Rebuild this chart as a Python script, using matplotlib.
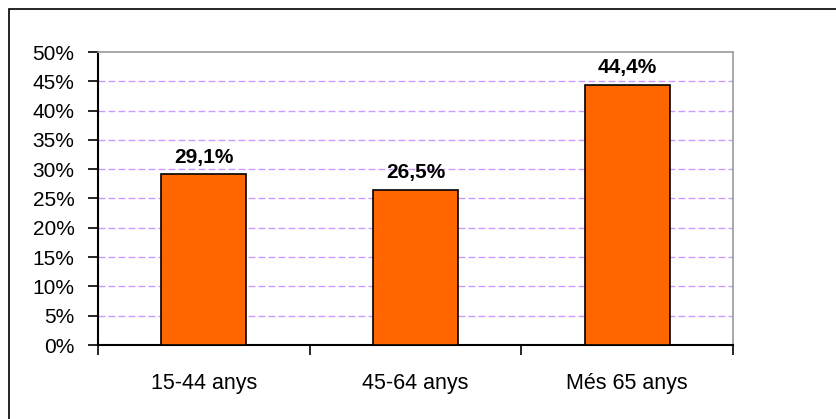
import matplotlib
matplotlib.use('Agg')
import matplotlib.pyplot as plt
from matplotlib.patches import Rectangle
import numpy as np

plt.rcParams['font.family'] = ['Liberation Sans', 'DejaVu Sans']

categories = ['15-44 anys', '45-64 anys', 'Més 65 anys']
values = [29.1, 26.5, 44.4]
labels = ['29,1%', '26,5%', '44,4%']
yticks = [0, 5, 10, 15, 20, 25, 30, 35, 40, 45, 50]

fig = plt.figure(figsize=(8.36, 4.19), dpi=100)
ax = fig.add_axes([98 / 836, 1 - 345 / 419, (733 - 98) / 836, (345 - 52) / 419])

# outer frame (only left and top visible in the original)
fig.patches.append(Rectangle((8.5 / 836, -0.1), 1.2, 1 - 9.5 / 419 + 0.1,
                             transform=fig.transFigure, fill=False,
                             edgecolor='black', linewidth=1.2))

x = np.arange(len(categories))
ax.bar(x, values, width=0.4, color='#ff6600', edgecolor='black', linewidth=1.2, zorder=3)

for xi, v, lab in zip(x, values, labels):
    ax.text(xi, v + 1.3, lab, ha='center', va='bottom', fontsize=15, fontweight='bold')

ax.set_xlim(-0.5, 2.5)
ax.set_ylim(0, 50)
ax.set_yticks(yticks)
ax.set_yticklabels([f'{t}%' for t in yticks], fontsize=15)
for t in yticks[1:-1]:
    ax.axhline(t, color='#cc99ff', linestyle=(0, (5, 2.2)), linewidth=1, zorder=1)

ax.set_xticks([-0.5, 0.5, 1.5, 2.5])
ax.set_xticklabels([])
ax.set_xticks(x, minor=True)
ax.set_xticklabels(categories, minor=True, fontsize=15.5)
ax.tick_params(axis='x', which='major', direction='out', length=7, width=1.2)
ax.tick_params(axis='x', which='minor', length=0, pad=20)
ax.tick_params(axis='y', direction='out', length=7, width=1.2, pad=10)

ax.spines['left'].set_linewidth(1.5)
ax.spines['bottom'].set_linewidth(1.5)
ax.spines['top'].set_color('#999999')
ax.spines['right'].set_color('#999999')
ax.spines['top'].set_linewidth(1.2)
ax.spines['right'].set_linewidth(1.2)

fig.savefig('out.png', dpi=100)
